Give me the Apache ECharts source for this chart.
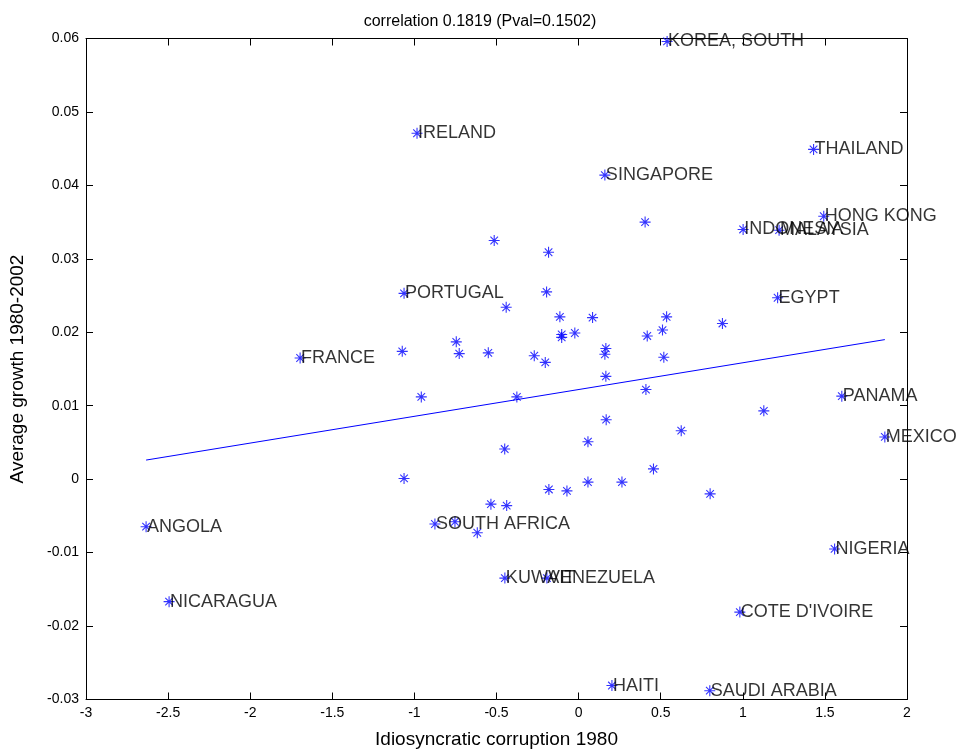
<!DOCTYPE html>
<html>
<head>
<meta charset="utf-8">
<title>Growth vs corruption</title>
<script src="https://cdn.jsdelivr.net/npm/echarts@6/dist/echarts.min.js"></script>
<style>
  html, body { margin: 0; padding: 0; background: #fff; }
  #chart { width: 958px; height: 751px; }
</style>
</head>
<body>
<div id="chart"></div>
<script>
// Countries shown with a name next to their marker
const labeledNames = ['KOREA, SOUTH', 'IRELAND', 'THAILAND', 'SINGAPORE', 'HONG KONG', 'INDONESIA',
  'MALAYSIA', 'EGYPT', 'PORTUGAL', 'FRANCE', 'PANAMA', 'MEXICO', 'ANGOLA', 'NICARAGUA',
  'SOUTH AFRICA', 'NIGERIA', 'KUWAIT', 'VENEZUELA', "COTE D'IVOIRE", 'HAITI', 'SAUDI ARABIA'];
const labeledX = [0.539, -0.984, 1.431, 0.160, 1.493, 1.002, 1.221, 1.212, -1.063, -1.696, 1.603, 1.865,
  -2.634, -2.494, -0.875, 1.559, -0.449, -0.193, 0.982, 0.203, 0.799];
const labeledY = [0.0596, 0.0471, 0.0449, 0.0414, 0.0358, 0.0340, 0.0339, 0.0247, 0.0253, 0.0165, 0.0113,
  0.00575, -0.00647, -0.01668, -0.0061, -0.0095, -0.01347, -0.01347, -0.0181, -0.0281, -0.0288];

// Remaining countries (unnamed markers)
const otherX = [-0.514, -0.183, -0.195, -0.441, -0.114, -0.103, -0.103, -0.023, -0.745, -0.727, -1.074,
  -0.550, -0.270, -0.203, -0.958, -0.376, 0.405, 0.085, 0.536, 0.511, 0.418, 0.166, 0.160, 0.519,
  0.876, 0.166, 0.410, 1.128, 0.168, 0.625, 0.057, -0.450, -1.063, 0.456, -0.181, -0.071, 0.057,
  0.264, 0.801, -0.534, -0.438, -0.753, -0.617];
const otherY = [0.0325, 0.0309, 0.0255, 0.0234, 0.0221, 0.0197, 0.0193, 0.0199, 0.0187, 0.0171, 0.0174,
  0.0172, 0.0168, 0.0159, 0.0112, 0.0112, 0.0350, 0.0220, 0.0221, 0.0203, 0.0195, 0.0178, 0.0170, 0.0166,
  0.0212, 0.0140, 0.0122, 0.0093, 0.0081, 0.0066, 0.0051, 0.0041, 0.0001, 0.0014, -0.0014, -0.0016,
  -0.0004, -0.0004, -0.0020, -0.0034, -0.0036, -0.0058, -0.0073];

// Fitted line endpoints
const fitX = [-2.634, 1.865];
const fitY = [0.0026, 0.0190];

// Axis ticks
const xTicks = { min: -3, max: 2, step: 0.5 };
const yTicks = { min: -0.03, max: 0.06, step: 0.01 };

const FONT = 'Liberation Sans, Arial, Helvetica, sans-serif';
const BLUE = '#0000ff';

// Eight-armed asterisk marker, all sub-paths wound the same way
const STAR = 'path://M45 0 L55 0 L55 100 L45 100 Z M0 45 L100 45 L100 55 L0 55 Z ' +
  'M12 19 L19 12 L88 81 L81 88 Z M81 12 L88 19 L19 88 L12 81 Z';
const SYM = 11;

const fmt = v => String(+v.toFixed(3));

const frameAxis = {
  axisLine: { show: true, onZero: false, lineStyle: { color: '#000', width: 1 } },
  axisTick: { show: true, inside: true, length: 7, lineStyle: { color: '#000', width: 1 } },
  splitLine: { show: false }
};

const chart = echarts.init(document.getElementById('chart'), null, { renderer: 'canvas' });

chart.setOption({
  animation: false,
  backgroundColor: '#fff',
  title: {
    text: 'correlation 0.1819 (Pval=0.1502)',
    left: 475, top: 9, textAlign: 'center',
    textStyle: { fontFamily: FONT, fontSize: 16, fontWeight: 'normal', color: '#000' }
  },
  grid: { left: 86, right: 51, top: 38.5, bottom: 51.5, containLabel: false, outerBoundsMode: 'none' },
  xAxis: [
    Object.assign({}, frameAxis, {
      type: 'value', position: 'bottom', min: xTicks.min, max: xTicks.max, interval: xTicks.step,
      name: 'Idiosyncratic corruption 1980', nameLocation: 'middle', nameGap: 31,
      nameTextStyle: { fontFamily: FONT, fontSize: 19, color: '#000' },
      axisLabel: { fontFamily: FONT, fontSize: 14, color: '#000', margin: 7, formatter: fmt }
    }),
    Object.assign({}, frameAxis, {
      type: 'value', position: 'top', min: xTicks.min, max: xTicks.max, interval: xTicks.step,
      axisLabel: { show: false }
    })
  ],
  yAxis: [
    Object.assign({}, frameAxis, {
      type: 'value', position: 'left', min: yTicks.min, max: yTicks.max, interval: yTicks.step,
      name: 'Average growth 1980-2002', nameLocation: 'middle', nameGap: 59, nameRotate: 90,
      nameTextStyle: { fontFamily: FONT, fontSize: 19, color: '#000' },
      axisLabel: { fontFamily: FONT, fontSize: 14, color: '#000', margin: 7, formatter: fmt }
    }),
    Object.assign({}, frameAxis, {
      type: 'value', position: 'right', min: yTicks.min, max: yTicks.max, interval: yTicks.step,
      axisLabel: { show: false }
    })
  ],
  series: [
    {
      type: 'line', xAxisIndex: 0, yAxisIndex: 0,
      data: fitX.map((x, i) => [x, fitY[i]]),
      showSymbol: false, symbol: 'none',
      lineStyle: { color: BLUE, width: 1 }, silent: true, z: 2
    },
    {
      type: 'scatter', xAxisIndex: 0, yAxisIndex: 0,
      data: otherX.map((x, i) => [x, otherY[i]]),
      symbol: STAR, symbolSize: SYM,
      itemStyle: { color: BLUE }, z: 3
    },
    {
      type: 'scatter', xAxisIndex: 0, yAxisIndex: 0,
      data: labeledX.map((x, i) => ({ name: labeledNames[i], value: [x, labeledY[i]] })),
      symbol: STAR, symbolSize: SYM,
      itemStyle: { color: BLUE }, z: 3,
      label: {
        show: true, position: [SYM / 2 + 1, SYM / 2], align: 'left', verticalAlign: 'middle',
        formatter: p => p.name,
        fontFamily: FONT, fontSize: 18, color: '#000'
      },
      labelLayout: { hideOverlap: false }
    }
  ]
});
</script>
</body>
</html>
